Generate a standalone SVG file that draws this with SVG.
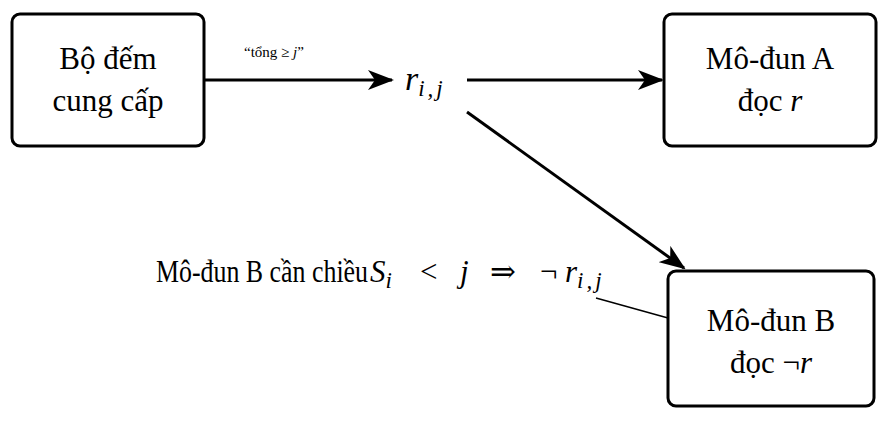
<svg xmlns="http://www.w3.org/2000/svg" width="886" height="421" viewBox="0 0 886 421">
<style>
.box{fill:#fff;stroke:#000;stroke-width:3}
.t{font-family:"Liberation Serif","DejaVu Serif","Times New Roman",serif;font-size:31px;fill:#000}
.s{font-family:"Liberation Serif","DejaVu Serif","Times New Roman",serif;font-size:15px;fill:#000}
.m{font-style:italic}
.c{stroke:#000;stroke-width:3;fill:none}
</style>
<defs><marker id="ah" viewBox="0 0 26 20" refX="24" refY="10" markerWidth="26" markerHeight="20" markerUnits="userSpaceOnUse" orient="auto"><path d="M0,0 L26,10 L0,20 L7,10Z" fill="#000"/></marker></defs>
<g id="connectors">
<line class="c" x1="204" y1="80" x2="392" y2="80" marker-end="url(#ah)"/>
<line class="c" x1="467" y1="80" x2="662" y2="80" marker-end="url(#ah)"/>
<line class="c" x1="467" y1="112" x2="684" y2="268" marker-end="url(#ah)"/>
<line x1="596" y1="298" x2="668" y2="318" stroke="#000" stroke-width="1.5"/>
<text class="s" x="244" y="57">“tổng ≥ <tspan class="m">j</tspan>”</text>
</g>
<g id="r"><text class="t" x="405" y="90"><tspan class="m" font-size="34">r</tspan><tspan class="m" font-size="23" dy="6" letter-spacing="3">i,j</tspan></text></g>
<g id="counter"><rect class="box" x="12" y="14" width="192" height="132" rx="8"/>
<text class="t" text-anchor="middle" x="108" y="69">Bộ đếm</text><text class="t" text-anchor="middle" x="108" y="111">cung cấp</text></g>
<g id="modA"><rect class="box" x="664" y="14" width="212" height="132" rx="8"/>
<text class="t" text-anchor="middle" x="770" y="69">Mô-đun A</text><text class="t" text-anchor="middle" x="770" y="111">đọc <tspan class="m">r</tspan></text></g>
<g id="label"><text class="t" x="156" y="282" textLength="212" lengthAdjust="spacingAndGlyphs">Mô-đun B cần chiều</text>
<text class="t" y="282" font-size="34"><tspan class="m" x="370">S</tspan><tspan class="m" font-size="23" dy="6">i</tspan><tspan x="420" dy="-6">&lt;</tspan><tspan class="m" x="460">j</tspan><tspan x="490">⇒</tspan><tspan x="540">¬</tspan><tspan class="m" x="565">r</tspan><tspan class="m" font-size="23" dy="6" letter-spacing="3">i,j</tspan></text></g>
<g id="modB"><rect class="box" x="668" y="271" width="206" height="135" rx="8"/>
<text class="t" text-anchor="middle" x="771" y="331">Mô-đun B</text><text class="t" text-anchor="middle" x="771" y="373">đọc ¬<tspan class="m">r</tspan></text></g>
</svg>
